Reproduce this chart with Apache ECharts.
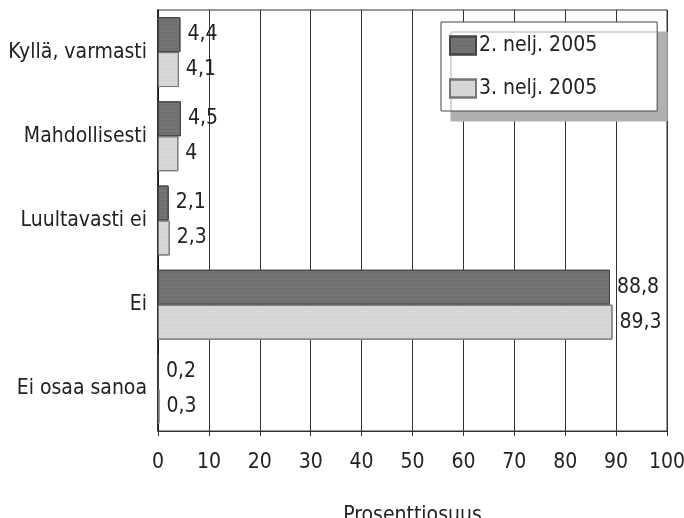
<!DOCTYPE html>
<html><head><meta charset="utf-8">
<script src="https://cdn.jsdelivr.net/npm/echarts@6/dist/echarts.min.js"></script>
<style>html,body{margin:0;padding:0;background:#fff}#c{width:684px;height:518px}</style>
</head><body><div id="c"></div>
<script>
const categories = ["Kyllä, varmasti", "Mahdollisesti", "Luultavasti ei", "Ei", "Ei osaa sanoa"];
const seriesNames = ["2. nelj. 2005", "3. nelj. 2005"];
const q2 = [4.4, 4.5, 2.1, 88.8, 0.2];
const q3 = [4.1, 4.0, 2.3, 89.3, 0.3];
const xTicks = [0, 10, 20, 30, 40, 50, 60, 70, 80, 90, 100];
const axisTitle = "Prosenttiosuus";

const FONT = "'Liberation Sans Narrow','DejaVu Sans Condensed','Roboto Condensed',sans-serif";
const fmt = v => String(v).replace('.', ',');

const chart = echarts.init(document.getElementById('c'));
chart.setOption({
  animation: false,
  backgroundColor: '#fff',
  textStyle: { fontFamily: FONT, color: '#222' },
  grid: { left: 158, right: 17, top: 10, bottom: 87, show: true, borderColor: '#333', borderWidth: 1,
          containLabel: false, outerBoundsMode: 'none' },
  legend: {
    data: seriesNames,
    orient: 'vertical',
    left: 441, top: 22,
    padding: [13, 60, 12, 8],
    itemGap: 22,
    itemWidth: 26, itemHeight: 18,
    backgroundColor: '#fff',
    borderColor: '#444', borderWidth: 1,
    shadowColor: '#b0b0b0', shadowBlur: 0, shadowOffsetX: 10, shadowOffsetY: 10,
    textStyle: { fontFamily: FONT, fontSize: 21, color: '#222', padding: [0, 0, 0, -2] },
    icon: 'rect'
  },
  xAxis: {
    type: 'value', min: xTicks[0], max: xTicks[xTicks.length - 1], interval: 10,
    axisLine: { show: true, lineStyle: { color: '#333' } },
    axisTick: { show: true, length: 5, lineStyle: { color: '#333' } },
    axisLabel: { fontFamily: FONT, fontSize: 21, color: '#222', margin: 21, hideOverlap: false },
    splitLine: { show: true, lineStyle: { color: '#333', width: 1 } },
    name: axisTitle, nameLocation: 'middle', nameGap: 74,
    nameTextStyle: { fontFamily: FONT, fontSize: 21, color: '#222' }
  },
  yAxis: {
    type: 'category', data: categories, inverse: true,
    axisLine: { show: true, lineStyle: { color: '#111', width: 1.5 } },
    axisTick: { show: false },
    axisLabel: { fontFamily: FONT, fontSize: 21, color: '#222', margin: 11 }
  },
  series: [
    {
      name: seriesNames[0], type: 'bar', data: q2,
      barGap: '0%', barCategoryGap: '17%',
      itemStyle: { color: '#747474', borderColor: '#444', borderWidth: 1,
        decal: { symbol: 'rect', symbolSize: 0.5, dashArrayX: [1, 0], dashArrayY: [2, 2], color: 'rgba(40,40,40,0.25)', rotation: 0 } },
      label: { show: true, position: 'right', distance: 7, fontFamily: FONT, fontSize: 21, color: '#222', formatter: p => fmt(p.value) }
    },
    {
      name: seriesNames[1], type: 'bar', data: q3,
      itemStyle: { color: '#d8d8d8', borderColor: '#777', borderWidth: 1,
        decal: { symbol: 'rect', symbolSize: 0.5, dashArrayX: [1, 0], dashArrayY: [2, 2], color: 'rgba(120,120,120,0.2)', rotation: 0 } },
      label: { show: true, position: 'right', distance: 7, fontFamily: FONT, fontSize: 21, color: '#222', formatter: p => fmt(p.value) }
    }
  ]
});
</script></body></html>
